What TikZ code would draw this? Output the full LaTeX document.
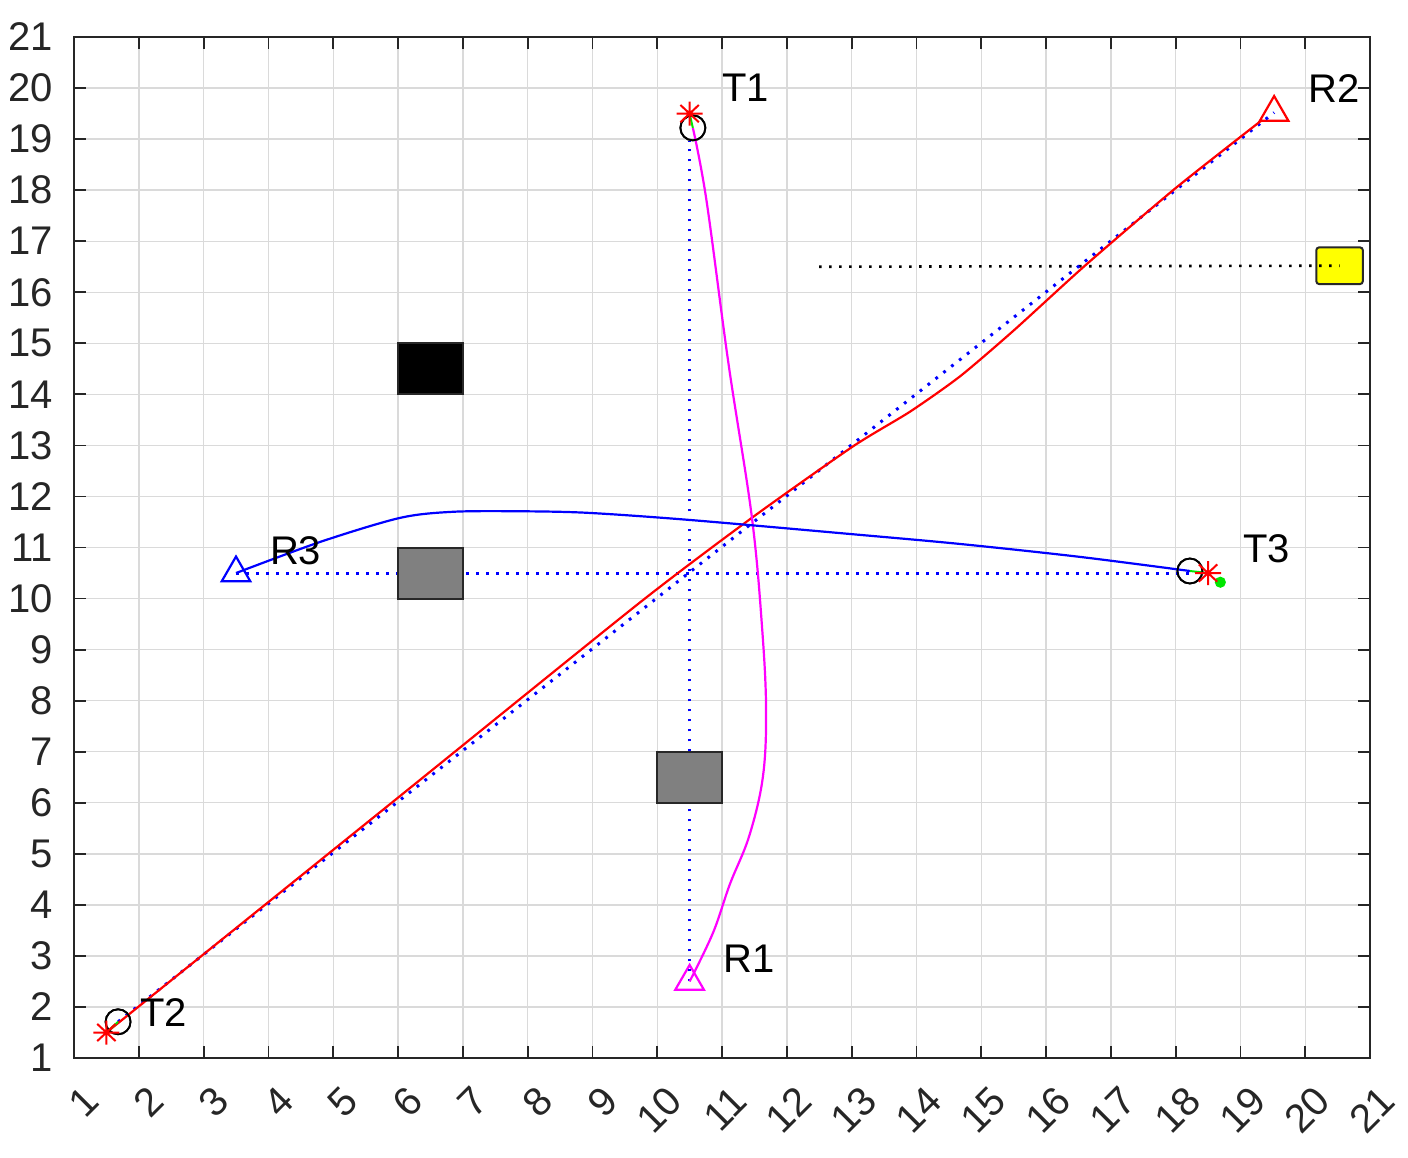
\documentclass[tikz,border=0pt]{standalone}
\usepackage{fontspec}
\setmainfont{Liberation Sans}
\usetikzlibrary{shapes.geometric}
\definecolor{gridc}{RGB}{218,218,218}
\definecolor{axc}{RGB}{38,38,38}
\definecolor{obgray}{RGB}{128,128,128}
\definecolor{obedge}{RGB}{40,40,40}
\definecolor{magc}{RGB}{255,0,255}
\definecolor{yelc}{RGB}{255,255,0}
\definecolor{grn}{RGB}{0,230,0}
\newcommand\astk[1]{\draw[astline] ([xshift=-6.5pt]#1.center) -- ([xshift=6.5pt]#1.center) ([yshift=-6pt]#1.center) -- ([yshift=6pt]#1.center) ([shift={(-4.6pt,-4.3pt)}]#1.center) -- ([shift={(4.6pt,4.3pt)}]#1.center) ([shift={(-4.6pt,4.3pt)}]#1.center) -- ([shift={(4.6pt,-4.3pt)}]#1.center);}
\tikzset{
  gridl/.style={draw=gridc, line width=0.7pt},
  axl/.style={draw=axc, line width=0.9pt},
  tickl/.style={font=\fontsize{20}{24}\selectfont, text=axc, inner sep=0pt},
  xtl/.style={tickl, rotate=45, anchor=east},
  ytl/.style={tickl, anchor=east},
  lbl/.style={font=\fontsize{20}{24}\selectfont, text=black, anchor=west, inner sep=0pt},
  bluedot/.style={draw=blue, line width=1.5pt, dash pattern=on 1.4pt off 3.6pt},
  blackdot/.style={draw=black, line width=1.3pt, dash pattern=on 1.2pt off 3.8pt},
  circmark/.style={circle, draw=black, line width=0.9pt, minimum size=12.5pt, inner sep=0pt},
  astmark/.style={circle, minimum size=12pt, inner sep=0pt},
  astline/.style={draw=red, line width=1pt},
  trimark/.style={regular polygon, regular polygon sides=3, minimum size=16.5pt, inner sep=0pt, line width=1.1pt},
  obst/.style={draw=obedge, line width=1pt, minimum width=32.4pt, minimum height=25.525pt, inner sep=0pt},
  trajred/.style={draw=red, line width=1.1pt},
  trajmag/.style={draw=magc, line width=1.1pt},
  trajblue/.style={draw=blue, line width=1.1pt},
  grnl/.style={draw=grn, line width=1pt}
}
\begin{document}
\begin{tikzpicture}[x=32.4pt, y=25.525pt]
\path[use as bounding box, fill=white] (-0.142,-0.939) rectangle (21.586,21.725);
% grid
\foreach \i in {2,...,20} {
  \draw[gridl] (\i,1) -- (\i,21);
  \draw[gridl] (1,\i) -- (21,\i);
}
% markers (nodes)
\node[astmark] (t1) at (10.5,19.5) {};
\node[astmark] (t2) at (1.5,1.5) {};
\node[astmark] (t3) at (18.5,10.5) {};
\node[circmark] (t1c) at (10.55,19.22) {};
\node[circmark] (t2c) at (1.68,1.71) {};
\node[circmark] (t3c) at (18.22,10.54) {};
\node[trimark, draw=magc] (r1) at (10.5,2.5) {};
\node[trimark, draw=red] (r2) at (19.52,19.52) {};
\node[trimark, draw=blue] (r3) at (3.5,10.5) {};
% yellow box and black dotted line
\node[draw=obedge, fill=yelc, line width=1pt, rounded corners=1.5pt, minimum width=23.3pt, minimum height=18.4pt, inner sep=0pt] (yb) at (20.53,16.52) {};
\coordinate (bds) at (12.5,16.5);
\draw[blackdot] (bds) -- (yb.center);
% blue dotted reference lines
\draw[bluedot] (r1.center) -- (r1.center |- t1c.south);
\draw[bluedot] (r3.center) -- (r3.center -| t3c.center);
\draw[bluedot] (t2c.center) -- (r2.center);
% obstacles
\node[obst, fill=black] (ob1) at (6.5,14.5) {};
\node[obst, fill=obgray] (ob2) at (6.5,10.5) {};
\node[obst, fill=obgray] (ob3) at (10.5,6.5) {};
% trajectories
\draw[trajred] plot[smooth, tension=0.4] coordinates {(t2.center) (6,6.1) (9.73,9.92) (11.48,11.6) (13.02,12.98) (13.9,13.66) (14.67,14.35) (15.5,15.25) (16.6,16.52) (18,18.04) (19.33,19.37)};
\draw[trajmag] plot[smooth, tension=0.6] coordinates {(t1c.center) (10.76,17.8) (11.1,14.6) (11.46,11.6) (11.62,9.4) (11.68,7.8) (11.63,6.5) (11.42,5.35) (11.12,4.4) (10.86,3.45) (r1.center)};
\draw[trajblue] plot[smooth, tension=0.5] coordinates {(t3c.center) (16.5,10.82) (14.67,11.07) (13.02,11.26) (10.5,11.54) (8.92,11.68) (7.88,11.71) (6.85,11.7) (6.03,11.58) (4.8,11.11) (r3.center)};
% green bits
\draw[grnl] (t1c.center) -- (t1.center);
\draw[grnl] (t2c.center) -- (t2.center);
\draw[grnl] (t3c.center) -- (t3.center);
\fill[grn] (18.69,10.32) circle (2.8pt);
% redraw markers on top
\node[circmark] at (t1c.center) {};
\node[circmark] at (t2c.center) {};
\node[circmark] at (t3c.center) {};
\astk{t1}
\astk{t2}
\astk{t3}
% labels
\node[lbl] (lt1) at (11.0,20.0) {T1};
\node[lbl] (lr2) at (20.05,20.0) {R2};
\node[lbl] (lt2) at (2.02,1.9) {T2};
\node[lbl] (lt3) at (19.04,10.97) {T3};
\node[lbl] (lr3) at (4.02,10.93) {R3};
\node[lbl] (lr1) at (11.02,2.94) {R1};
% axes box and ticks
\draw[axl] (1,1) rectangle (21,21);
\foreach \i in {2,...,20} {
  \draw[axl] (\i,1) -- ++(0,6pt);
  \draw[axl] (\i,21) -- ++(0,-6pt);
  \draw[axl] (1,\i) -- ++(6pt,0);
  \draw[axl] (21,\i) -- ++(-6pt,0);
}
\foreach \i in {1,...,21} {
  \node[ytl] (yl\i) at ([xshift=-10.5pt]1,\i) {\i};
  \node[xtl] (xl\i) at ([shift={(9pt,-18pt)}]\i,1) {\i};
}
\end{tikzpicture}
\end{document}
